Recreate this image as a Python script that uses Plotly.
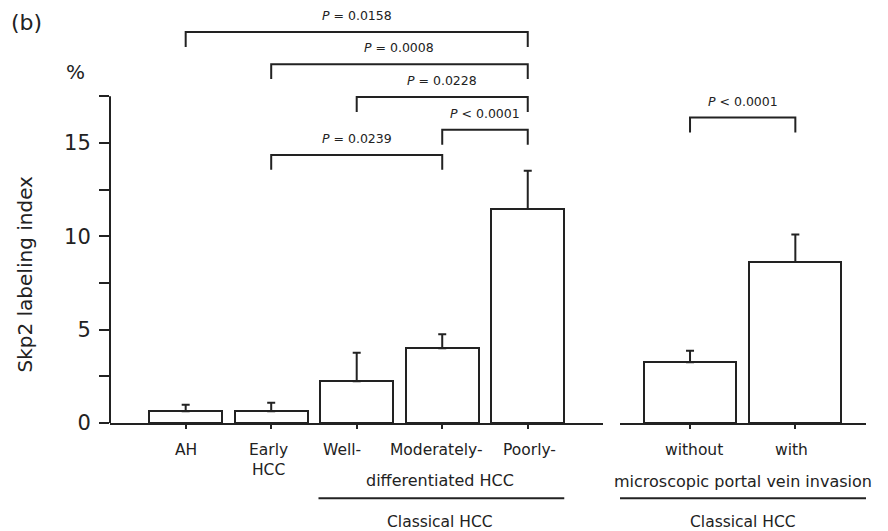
import plotly.graph_objects as go

# ---------------- data ----------------
left_categories = ["AH", "Early<br>HCC", "Well-", "Moderately-", "Poorly-"]
left_means = [0.63, 0.63, 2.23, 4.01, 11.46]
left_errors = [0.35, 0.46, 1.53, 0.75, 2.05]

right_categories = ["without", "with"]
right_means = [3.26, 8.63]
right_errors = [0.61, 1.46]

y_tick_values = [0, 2.5, 5, 7.5, 10, 12.5, 15, 17.5]
y_tick_labels = ["0", "", "5", "", "10", "", "15", ""]

# comparisons: (from index, to index), label, bracket height in %
left_pairs = [(0, 4), (1, 4), (2, 4), (3, 4), (1, 3)]
left_p_labels = ["<i>P</i> = 0.0158", "<i>P</i> = 0.0008", "<i>P</i> = 0.0228",
                 "<i>P</i> < 0.0001", "<i>P</i> = 0.0239"]
left_levels = [20.94, 19.22, 17.46, 15.71, 14.36]
right_pairs = [(0, 1)]
right_p_labels = ["<i>P</i> < 0.0001"]
right_levels = [16.36]

# ---------------- style / layout ----------------
INK = "#222222"
FONT = "DejaVu Sans"
DROP = 0.8
OFF = 8                 # page body margin of the html page
W, H = 880, 523         # figure size (window 888x531 minus body margin)
BASE = 423              # baseline, in window pixels
PLOT_H = BASE - OFF     # plot area height in figure pixels
PX_PER_UNIT = 18.67


def py(px):
    """window pixel y -> paper y"""
    return (BASE - px) / PLOT_H


def pxx(px):
    """window pixel x -> paper x"""
    return (px - OFF) / W


fig = go.Figure()

fig.add_trace(go.Bar(
    x=list(range(len(left_means))), y=left_means, width=0.854,
    marker=dict(color="white", line=dict(color=INK, width=2)),
    error_y=dict(type="data", array=left_errors, arrayminus=[0] * len(left_errors),
                 symmetric=False, color=INK, thickness=2, width=4),
    xaxis="x", yaxis="y", showlegend=False, hoverinfo="skip"))

fig.add_trace(go.Bar(
    x=list(range(len(right_means))), y=right_means, width=0.874,
    marker=dict(color="white", line=dict(color=INK, width=2)),
    error_y=dict(type="data", array=right_errors, arrayminus=[0] * len(right_errors),
                 symmetric=False, color=INK, thickness=2, width=4),
    xaxis="x2", yaxis="y", showlegend=False, hoverinfo="skip"))

annotations = []


def add_brackets(pairs, labels, levels, xaxis):
    for (a, b), lab, lvl in zip(pairs, labels, levels):
        fig.add_trace(go.Scatter(
            x=[a, a, b, b], y=[lvl - DROP, lvl, lvl, lvl - DROP], mode="lines",
            line=dict(color=INK, width=2), xaxis=xaxis, yaxis="y",
            showlegend=False, hoverinfo="skip"))
        annotations.append(dict(
            x=(a + b) / 2, y=lvl, xref=xaxis, yref="y", text=lab, showarrow=False,
            xanchor="center", yanchor="middle", yshift=16.5,
            font=dict(family=FONT, size=12.5, color=INK)))


add_brackets(left_pairs, left_p_labels, left_levels, "x")
add_brackets(right_pairs, right_p_labels, right_levels, "x2")

# category labels
label_font = dict(family=FONT, size=15.5, color=INK)
left_shift = [0, -3, -15, -6, 2]
for i, (cat, sh) in enumerate(zip(left_categories, left_shift)):
    annotations.append(dict(x=i, y=py(439), xref="x", yref="paper", text=cat,
                            showarrow=False, xanchor="center", yanchor="top",
                            xshift=sh, font=label_font))
right_shift = [4, -4]
for i, (cat, sh) in enumerate(zip(right_categories, right_shift)):
    annotations.append(dict(x=i, y=py(439), xref="x2", yref="paper", text=cat,
                            showarrow=False, xanchor="center", yanchor="top",
                            xshift=sh, font=label_font))

group_font = dict(family=FONT, size=16, color=INK)
annotations.append(dict(x=3, y=py(480), xref="x", yref="paper", text="differentiated HCC",
                        showarrow=False, xanchor="center", yanchor="middle", xshift=-2,
                        font=group_font))
annotations.append(dict(x=0.5, y=py(481.5), xref="x2", yref="paper",
                        text="microscopic portal vein invasion", showarrow=False,
                        xanchor="center", yanchor="middle", font=group_font))
annotations.append(dict(x=3, y=py(521.5), xref="x", yref="paper", text="Classical HCC",
                        showarrow=False, xanchor="center", yanchor="middle", xshift=-2,
                        font=dict(family=FONT, size=15.5, color=INK)))
annotations.append(dict(x=0.5, y=py(521.5), xref="x2", yref="paper", text="Classical HCC",
                        showarrow=False, xanchor="center", yanchor="middle",
                        font=dict(family=FONT, size=15.5, color=INK)))

# axis title, unit and panel label
annotations.append(dict(x=pxx(24), y=py(274.5), xref="paper", yref="paper",
                        text="Skp2 labeling index", textangle=-90, showarrow=False,
                        xanchor="center", yanchor="middle",
                        font=dict(family=FONT, size=20, color=INK)))
annotations.append(dict(x=pxx(75), y=py(72), xref="paper", yref="paper", text="%",
                        showarrow=False, xanchor="center", yanchor="middle",
                        font=dict(family=FONT, size=20, color=INK)))
annotations.append(dict(x=pxx(26), y=py(22), xref="paper", yref="paper", text="(b)",
                        showarrow=False, xanchor="center", yanchor="middle",
                        font=dict(family=FONT, size=22, color=INK)))

shapes = [
    # y axis line (0 .. 17.5)
    dict(type="line", xref="x domain", yref="y", x0=0, x1=0, y0=0, y1=y_tick_values[-1],
         line=dict(color=INK, width=2)),
    # group underlines
    dict(type="line", xref="x", yref="paper", x0=2 - 0.854 / 2 - 0.02, x1=4 + 0.854 / 2,
         y0=py(498.3), y1=py(498.3), line=dict(color=INK, width=2)),
    dict(type="line", xref="x2", yref="paper", x0=-0.665, x1=1.671,
         y0=py(498.3), y1=py(498.3), line=dict(color=INK, width=2)),
]

fig.update_layout(
    width=W, height=H, margin=dict(l=0, r=0, t=0, b=H - PLOT_H),
    paper_bgcolor="white", plot_bgcolor="white", bargap=0,
    font=dict(family=FONT, color=INK),
    xaxis=dict(domain=[pxx(110), pxx(603)], range=[-0.885, 4.88], showgrid=False,
               zeroline=False, showline=True, linecolor=INK, linewidth=2,
               ticks="outside", ticklen=4, tickwidth=2, tickcolor=INK,
               tickvals=list(range(len(left_means))), showticklabels=False,
               anchor="y", fixedrange=True),
    xaxis2=dict(domain=[pxx(620), pxx(866)], range=[-0.665, 1.671], showgrid=False,
                zeroline=False, showline=True, linecolor=INK, linewidth=2,
                ticks="outside", ticklen=4, tickwidth=2, tickcolor=INK,
                tickvals=list(range(len(right_means))), showticklabels=False,
                anchor="y", fixedrange=True),
    yaxis=dict(range=[0, PLOT_H / PX_PER_UNIT], showgrid=False, zeroline=False,
               showline=False, ticks="outside", ticklen=10, tickwidth=2, tickcolor=INK,
               tickvals=y_tick_values, ticktext=y_tick_labels,
               tickfont=dict(family=FONT, size=21, color=INK),
               ticklabelstandoff=4, anchor="x", fixedrange=True),
    annotations=annotations, shapes=shapes,
)

fig.write_html("out.html")
